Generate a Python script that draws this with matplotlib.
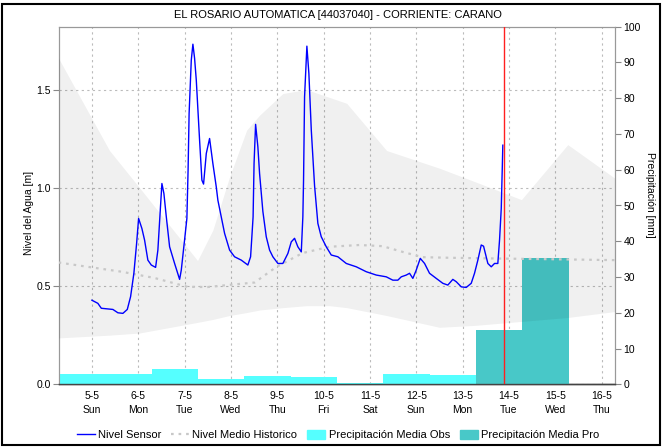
import matplotlib
matplotlib.use("Agg")
import matplotlib.pyplot as plt
import matplotlib.dates as mdates
from matplotlib.lines import Line2D
from matplotlib.patches import Patch, Rectangle
from datetime import datetime, timedelta

plt.rcParams['font.family'] = ['Liberation Sans', 'DejaVu Sans']

# tiempo en dias de mayo 2024 (5.5 = 5-5 12:00)
sensor_day = [5.000, 5.129, 5.203, 5.453, 5.561, 5.669, 5.764, 5.835, 5.906, 5.965,
              6.008, 6.079, 6.137, 6.208, 6.282, 6.375, 6.424, 6.467, 6.511, 6.554,
              6.606, 6.677, 6.785, 6.893, 6.929, 7.000, 7.050, 7.076, 7.098, 7.145,
              7.180, 7.216, 7.253, 7.324, 7.374, 7.410, 7.469, 7.540, 7.611, 7.684,
              7.719, 7.792, 7.864, 7.972, 8.079, 8.224, 8.366, 8.425, 8.457, 8.479,
              8.500, 8.533, 8.582, 8.619, 8.690, 8.763, 8.835, 8.906, 9.014, 9.122,
              9.230, 9.303, 9.374, 9.445, 9.519, 9.553, 9.568, 9.590, 9.640, 9.683,
              9.735, 9.806, 9.877, 9.950, 10.058, 10.166, 10.309, 10.490, 10.706, 10.921,
              11.137, 11.353, 11.495, 11.603, 11.677, 11.785, 11.856, 11.927, 12.000, 12.087,
              12.180, 12.287, 12.432, 12.574, 12.682, 12.790, 12.864, 12.972, 13.079, 13.187,
              13.258, 13.330, 13.403, 13.453, 13.546, 13.619, 13.690, 13.761, 13.798, 13.835,
              13.856, 13.869]
sensor_nivel = [0.428, 0.412, 0.387, 0.381, 0.364, 0.361, 0.381, 0.446, 0.565, 0.717,
                0.844, 0.793, 0.734, 0.632, 0.607, 0.595, 0.683, 0.852, 1.022, 0.971,
                0.852, 0.700, 0.615, 0.534, 0.581, 0.734, 0.844, 1.090, 1.378, 1.650,
                1.731, 1.660, 1.548, 1.243, 1.039, 1.019, 1.175, 1.251, 1.124, 1.005,
                0.937, 0.852, 0.768, 0.683, 0.649, 0.632, 0.607, 0.649, 0.768, 0.852,
                1.124, 1.323, 1.209, 1.073, 0.880, 0.751, 0.683, 0.649, 0.615, 0.615,
                0.666, 0.725, 0.743, 0.700, 0.674, 0.852, 1.039, 1.463, 1.721, 1.582,
                1.294, 1.010, 0.819, 0.751, 0.700, 0.658, 0.649, 0.615, 0.598, 0.573,
                0.556, 0.547, 0.530, 0.530, 0.547, 0.556, 0.565, 0.539, 0.581, 0.641,
                0.615, 0.565, 0.539, 0.514, 0.505, 0.534, 0.522, 0.496, 0.493, 0.514,
                0.565, 0.632, 0.709, 0.703, 0.615, 0.598, 0.615, 0.615, 0.734, 0.895,
                1.090, 1.217]

medio_day = [4.281, 4.907, 5.641, 6.353, 7.065, 7.497, 7.928, 8.511, 8.986, 9.547,
             10.130, 10.777, 11.274, 11.705, 12.137, 12.720, 13.799, 15.094, 16.280]
medio_nivel = [0.620, 0.598, 0.573, 0.541, 0.496, 0.495, 0.505, 0.518, 0.598, 0.668,
               0.700, 0.709, 0.703, 0.674, 0.647, 0.644, 0.640, 0.636, 0.632]

rango_day = [4.28, 5.38, 6.03, 7.28, 7.61, 7.97, 8.34, 8.62, 9.12, 9.63,
             10.13, 10.50, 11.36, 12.50, 13.28, 14.27, 15.27, 16.28]
rango_max = [1.66, 1.19, 1.00, 0.63, 0.785, 1.055, 1.294, 1.37, 1.48, 1.50,
             1.46, 1.43, 1.19, 1.10, 1.03, 0.94, 1.22, 1.05]
rango_min = [0.236, 0.25, 0.261, 0.315, 0.33, 0.35, 0.365, 0.378, 0.39, 0.40,
             0.40, 0.39, 0.35, 0.29, 0.30, 0.32, 0.34, 0.37]

# precipitacion diaria (dia hidrologico desde las 07:00)
obs_inicio = [4.29, 5.29, 6.29, 7.29, 8.29, 9.29, 10.29, 11.29, 12.29]
obs_mm = [3.0, 3.0, 4.2, 1.4, 2.4, 2.0, 0.5, 3.0, 2.7]
pro_inicio = [13.29, 14.29]
pro_mm = [15.1, 35.4]

ahora_day = 13.89
titulo = "EL ROSARIO AUTOMATICA [44037040] - CORRIENTE: CARANO"


def fechas(dias):
    return [datetime(2024, 5, 1) + timedelta(days=d - 1) for d in dias]


fig = plt.figure(figsize=(6.63, 4.48), dpi=100)
ax1 = fig.add_axes([59 / 663, 1 - 384.3 / 448, 556 / 663, 357.6 / 448])
ax2 = ax1.twinx()
ax3 = fig.add_axes(ax1.get_position(), sharex=ax1, sharey=ax1)
ax3.set_axis_off()
ax3.patch.set_visible(False)

# barras de precipitacion
ax2.bar(fechas(obs_inicio), obs_mm, width=1.0, align='edge', color='#55FFFF', lw=0)
ax2.bar(fechas(pro_inicio), pro_mm, width=1.0, align='edge', color='#48C8C8', lw=0)
ax2.set_ylim(0, 100)
ax2.set_yticks(range(0, 101, 10))
ax2.set_ylabel("")
ax2.tick_params(axis='y', labelsize=7.5, length=4, color='#888888', pad=2)

# rango historico, nivel medio, sensor
ax3.fill_between(fechas(rango_day), rango_min, rango_max, color='black', alpha=0.06, lw=0)
ax3.plot(fechas(medio_day), medio_nivel, color='#C8C8C8', lw=1.6, dashes=(1.2, 2.2))
ax3.plot(fechas(sensor_day), sensor_nivel, color='#0000FF', lw=1.0)
ax3.axvline(fechas([ahora_day])[0], color='#FF2020', lw=1.0)

ax1.set_ylim(0, 1.82)
ax1.set_yticks([0, 0.5, 1.0, 1.5])
ax1.yaxis.set_major_formatter(plt.FormatStrFormatter('%.1f'))
ax1.set_xlim(fechas([4.29, 16.29]))
ax1.xaxis.set_major_locator(mdates.DayLocator())
ax1.xaxis.set_major_formatter(plt.FuncFormatter(
    lambda v, p: "{}-{}\n{}".format(mdates.num2date(v).day, mdates.num2date(v).month,
                                   mdates.num2date(v).strftime('%a'))))
ax1.tick_params(axis='x', labelsize=7.5, length=0, pad=5)
ax1.tick_params(axis='y', labelsize=7.5, length=4, color='#888888', pad=2)
ax1.grid(True, color='#BBBBBB', linestyle=(0, (2, 3)), lw=0.8)
for lab in ax1.get_xticklabels():
    lab.set_linespacing(1.5)

for ax in (ax1, ax2):
    for s in ('left', 'right', 'top'):
        ax.spines[s].set_color('#999999')
        ax.spines[s].set_linewidth(0.8)
    ax.spines['bottom'].set_color('#444444')
    ax.spines['bottom'].set_linestyle((0, (1, 1)))
    ax.spines['bottom'].set_linewidth(1.0)

fig.text(338 / 663, 1 - 15 / 448, titulo, ha='center', va='center', fontsize=8)
fig.text(29 / 663, 1 - 213 / 448, "Nivel del Agua [m]", rotation=90,
         ha='center', va='center', fontsize=7.5)
fig.text(650 / 663, 1 - 195 / 448, "Precipitación [mm]", rotation=270,
         ha='center', va='center', fontsize=7.5)

handles = [Line2D([], [], color='#0000FF', lw=1.0),
           Line2D([], [], color='#C8C8C8', lw=1.6, dashes=(1.2, 2.2)),
           Patch(color='#55FFFF'), Patch(color='#48C8C8')]
labels = ["Nivel Sensor", "Nivel Medio Historico",
          "Precipitación Media Obs", "Precipitación Media Pro"]
fig.legend(handles, labels, loc='center', bbox_to_anchor=(338 / 663, 1 - 435 / 448),
           ncol=4, frameon=False, fontsize=8, handlelength=1.6, handletextpad=0.3,
           columnspacing=0.9, handleheight=0.9)

fig.patches.append(Rectangle((2 / 663, 3 / 448), 658 / 663, 441 / 448,
                             transform=fig.transFigure, fill=False,
                             edgecolor='black', lw=1.5))

fig.savefig("out.png", dpi=100)
